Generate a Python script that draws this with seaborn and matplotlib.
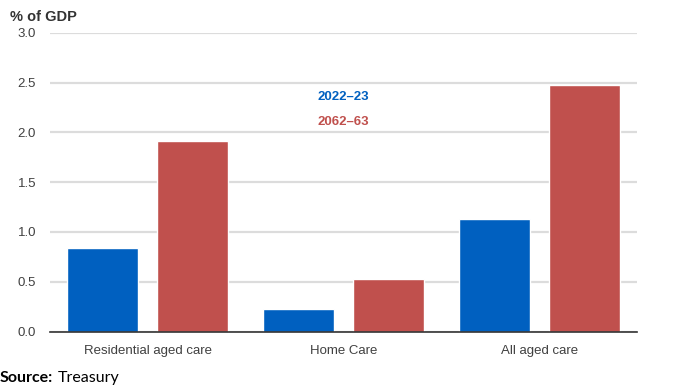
import pandas as pd
import numpy as np
import matplotlib
matplotlib.use('Agg')
import matplotlib.pyplot as plt
import seaborn as sns

categories = ['Residential aged care', 'Home Care', 'All aged care']
years = ['2022\u201323', '2062\u201363']
share_2022 = [0.84, 0.23, 1.13]
share_2062 = [1.91, 0.53, 2.48]
yticks = [0.0, 0.5, 1.0, 1.5, 2.0, 2.5, 3.0]

BLUE = '#0060C0'
RED = '#C0504D'

df = pd.DataFrame({
    'category': categories * 2,
    'year': [years[0]] * 3 + [years[1]] * 3,
    'value': share_2022 + share_2062,
})

sns.set_theme(style='white')
plt.rcParams['font.family'] = ['Liberation Sans', 'DejaVu Sans']

fig = plt.figure(figsize=(7, 3.88), dpi=100)
ax = fig.add_axes([50 / 700, 1 - 331.5 / 388, 587 / 700, 298.5 / 388])

sns.barplot(data=df, x='category', y='value', hue='year', order=categories,
            hue_order=years, palette=[BLUE, RED], width=0.92, gap=0.21,
            saturation=1, legend=False, ax=ax)

ax.set_ylim(0, 3.0)
ax.set_xlim(-0.5, 2.5)
ax.set_yticks(yticks)
ax.set_yticklabels(['{:.1f}'.format(t) for t in yticks])
ax.yaxis.grid(True, color='#dcdcdc', linewidth=1.6)
ax.set_axisbelow(True)
ax.set_xlabel('')
ax.set_ylabel('')

for s in ['top', 'right', 'left']:
    ax.spines[s].set_visible(False)
ax.spines['bottom'].set_color('#333333')
ax.spines['bottom'].set_linewidth(1.2)

ax.tick_params(axis='y', length=0, pad=10, labelsize=9.5, labelcolor='#404040')
ax.tick_params(axis='x', which='major', length=0, pad=10, labelsize=9.5, labelcolor='#404040')
ax.set_xticks([-0.5, 0.5, 1.5, 2.5], minor=True)
ax.tick_params(axis='x', which='minor', length=3, width=1, color='#333333', direction='out')

ax.text(1, 2.36, years[0], color=BLUE, fontweight='bold', fontsize=9.5,
        ha='center', va='center')
ax.text(1, 2.11, years[1], color=RED, fontweight='bold', fontsize=9.5,
        ha='center', va='center')

fig.text(10 / 700, 1 - 17 / 388, '% of GDP', fontweight='bold', fontsize=10.5,
         color='#333333', ha='left', va='center')

# source line: bold label, then plain text right after it
src = fig.text(0, 1 - 378 / 388, 'Source:', fontweight='bold', fontsize=11.5,
               family=['Lato', 'DejaVu Sans'], ha='left', va='center', color='black')
fig.canvas.draw()
bb = src.get_window_extent().transformed(fig.transFigure.inverted())
fig.text(bb.x1 + 5 / 700, 1 - 378 / 388, 'Treasury', fontsize=11.5,
         family=['Lato', 'DejaVu Sans'], ha='left', va='center', color='black')

fig.savefig('out.png', dpi=100)
